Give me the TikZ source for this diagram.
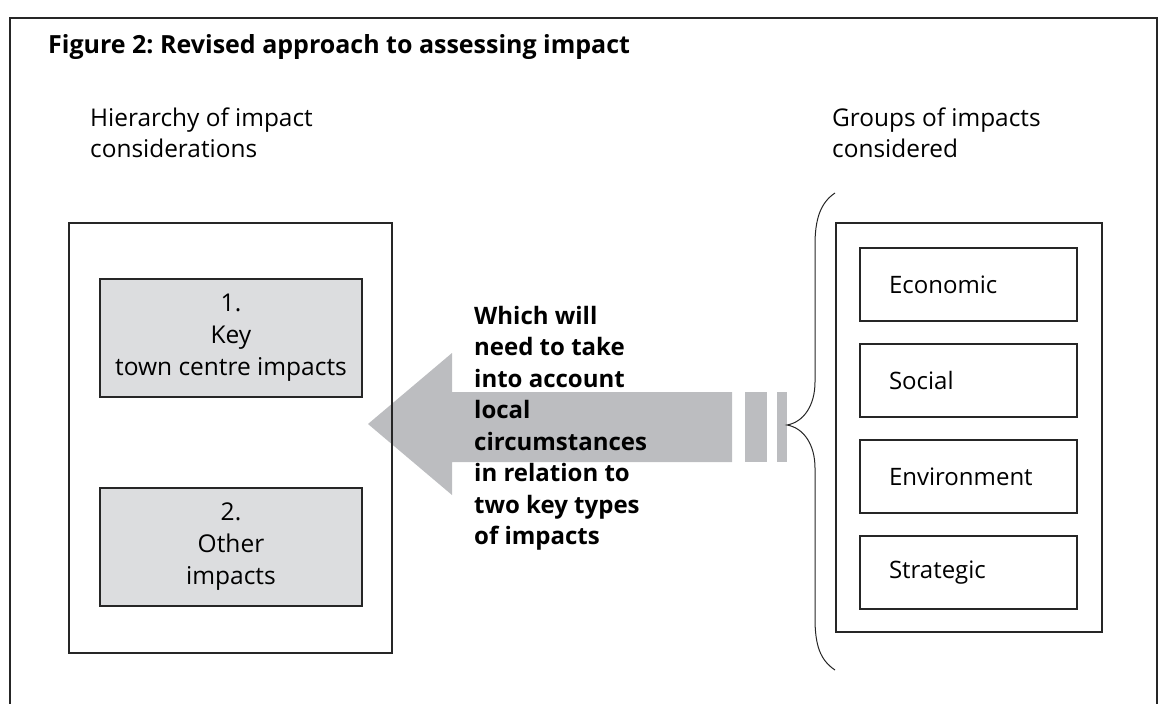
\documentclass[tikz,border=0pt]{standalone}
\usepackage{fontspec}
\setmainfont{Open Sans}
\frenchspacing
\definecolor{arrowgrey}{HTML}{BCBDC0}
\definecolor{boxgrey}{HTML}{DCDDDF}
\begin{document}
\begin{tikzpicture}[x=1pt,y=-1pt,
  outline/.style={draw=black!85, line width=1.2pt},
  impbox/.style={outline, fill=boxgrey, minimum width=262pt, minimum height=118pt,
    align=center, font=\fontsize{24.5}{32}\selectfont},
  catbox/.style={outline, minimum width=217pt, minimum height=73pt, text width=159pt,
    inner xsep=29pt, align=left, font=\fontsize{24}{30}\selectfont},
  heading/.style={anchor=north west, inner sep=0pt, align=left,
    font=\fontsize{24.4}{31}\selectfont}]

\useasboundingbox (0,0) rectangle (1165,704);

% outer frame, open at the bottom
\draw[outline] (10,704) -- (10,18) -- (1157,18) -- (1157,704);

\node[anchor=base west, inner sep=0pt, font=\bfseries\fontsize{25}{30}\selectfont]
  (title) at (48,53) {Figure 2: Revised approach to assessing impact};

\node[heading] (hierlabel) at (90,107.5) {Hierarchy of impact\\considerations};
\node[heading] (grouplabel) at (832,107.5) {Groups of impacts\\considered};

% big arrow
\fill[arrowgrey] (368,424) -- (452,353) -- (452,392) -- (732,392)
  -- (732,462) -- (452,462) -- (452,495) -- cycle;
\fill[arrowgrey] (745,392) rectangle (767,462);
\fill[arrowgrey] (777,392) rectangle (787,462);

% left column
\node[outline, minimum width=323pt, minimum height=430pt] (hier) at (230.5,438) {};
\node[impbox] (key) at (231,338) {1.\\Key\\town centre impacts};
\node[impbox] (other) at (231,547) {2.\\Other\\impacts};

% right column
\node[outline, minimum width=266pt, minimum height=409pt] (groups) at (969,427.5) {};
\foreach \name/\txt [count=\i] in {eco/Economic, soc/Social, env/Environment, strat/Strategic}
  \node[catbox] (\name) at (968.5,{284.5+96*(\i-1)}) {\txt};

% brace
\draw[draw=black!85, line width=1pt] (835,193) .. controls (820,203) and (815,220) .. (815,245)
  -- (815,382) .. controls (815,405) and (804,422) .. (787,425)
  .. controls (804,428) and (815,445) .. (815,468)
  -- (815,618) .. controls (815,645) and (820,660) .. (835,670);

\node[anchor=north west, inner sep=0pt, align=left, font=\bfseries\fontsize{24}{31.5}\selectfont]
  (note) at (474,306) {Which will\\need to take\\into account\\local\\circumstances\\in relation to\\two key types\\of impacts};

\end{tikzpicture}
\end{document}
